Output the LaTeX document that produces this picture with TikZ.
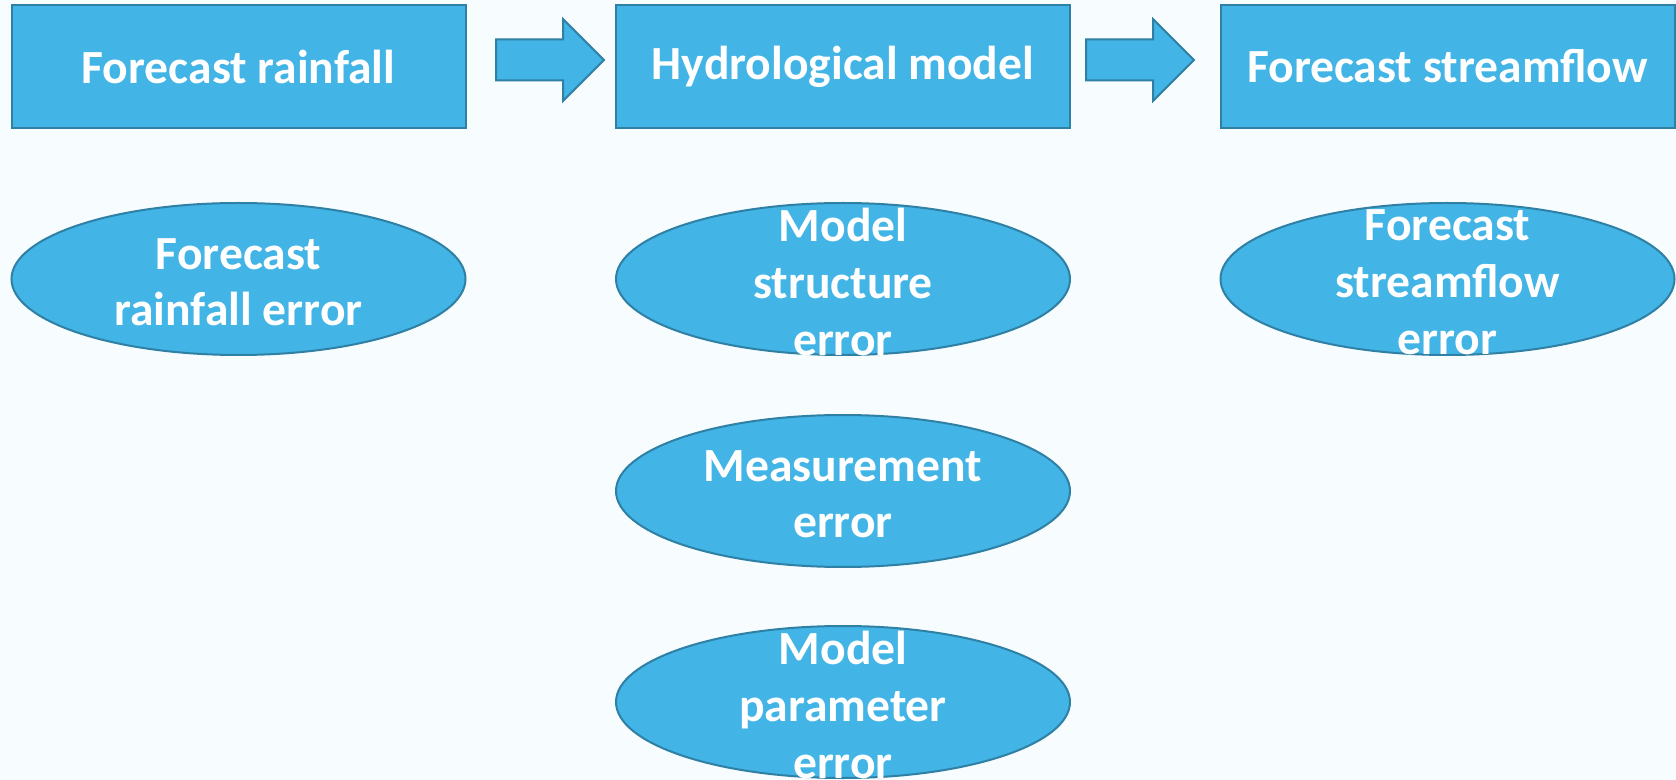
\documentclass[tikz,border=0pt]{standalone}
\usepackage{fontspec}
\setmainfont{Carlito}
\usetikzlibrary{shapes.geometric,shapes.arrows}
\definecolor{boxblue}{RGB}{66,180,230}
\definecolor{edgeblue}{RGB}{46,128,164}
\definecolor{paper}{RGB}{247,252,254}
\tikzset{
  stage/.style={rectangle, draw=edgeblue, fill=boxblue, line width=1pt,
    minimum width=227pt, minimum height=61.5pt, inner sep=0pt,
    text=white, font=\bfseries\fontsize{23.8}{28.4}\selectfont},
  source/.style={ellipse, draw=edgeblue, fill=boxblue, line width=1pt,
    minimum width=227pt, minimum height=76pt, inner sep=0pt},
  sourcetext/.style={align=center, text=white, yshift=-1.6pt,
    font=\bfseries\fontsize{23.8}{28.4}\selectfont},
  flow/.style={single arrow, draw=edgeblue, fill=boxblue, line width=1pt,
    anchor=tail, minimum height=54pt, minimum width=0pt,
    inner sep=9.75pt, single arrow head extend=10.25pt}
}
\begin{document}
\begin{tikzpicture}[x=0.5pt,y=-0.5pt]
  \fill[paper] (0,0) rectangle (1676,780);
  \useasboundingbox (0,0) rectangle (1676,780);
  % top row: the forecasting chain
  \node[stage] (rain) at (238.5,66.5) {\raisebox{-1.5pt}{Forecast rainfall}};
  \node[stage] (hydro) at (843,66.5) {\raisebox{-1.5pt}{Hydrological model}};
  \node[stage] (flow) at (1447.5,66.5) {\raisebox{-1.5pt}{Forecast streamflow}};
  \node[flow] (arr1) at (495,60) {};
  \node[flow] (arr2) at (1085,60) {};
  % error sources below each stage
  \node[source] (rainerr) at (238.5,279) {};
  \node[source] (structerr) at (843,279) {};
  \node[source] (flowerr) at (1447.5,279) {};
  \node[source] (measerr) at (843,491) {};
  \node[source] (paramerr) at (843,702) {};
  \node[sourcetext] (rainerrtxt) at (rainerr) {Forecast\\rainfall error};
  \node[sourcetext] (structerrtxt) at (structerr) {Model\\structure\\error};
  \node[sourcetext] (flowerrtxt) at (flowerr) {Forecast\\streamflow\\error};
  \node[sourcetext] (measerrtxt) at (measerr) {Measurement\\error};
  \node[sourcetext] (paramerrtxt) at (paramerr) {Model\\parameter\\error};
\end{tikzpicture}
\end{document}
